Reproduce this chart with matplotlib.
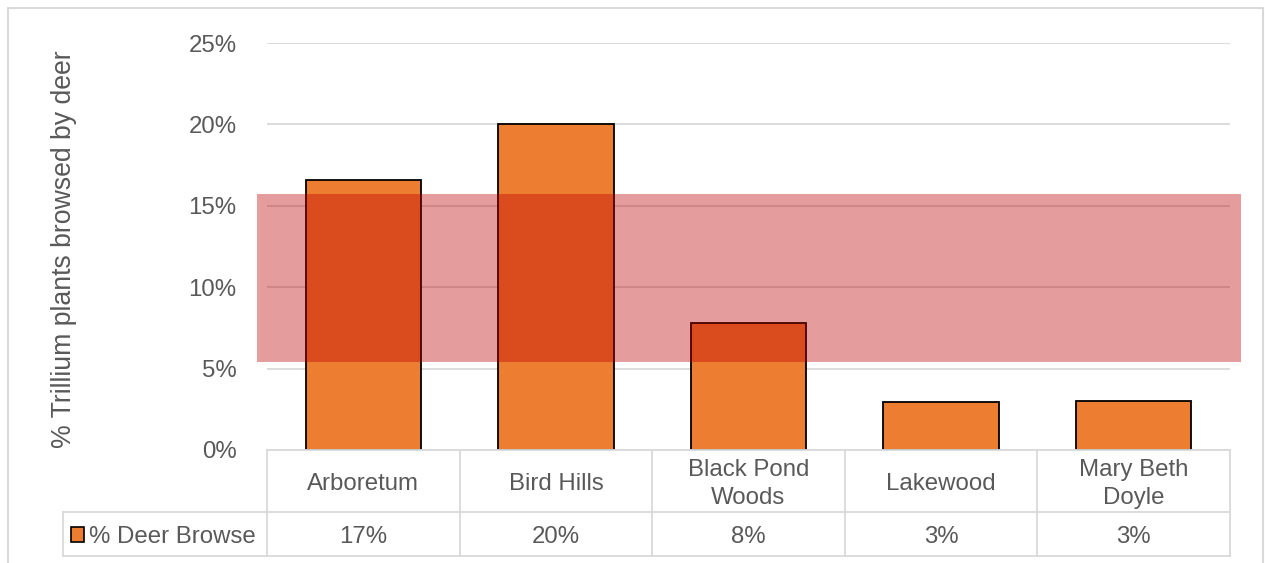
import matplotlib
matplotlib.use("Agg")
import matplotlib.pyplot as plt
from matplotlib.patches import Rectangle
from matplotlib.lines import Line2D

categories = ["Arboretum", "Bird Hills", "Black Pond\nWoods", "Lakewood", "Mary Beth\nDoyle"]
browse = [16.6, 20.0, 7.8, 2.95, 3.0]
table_labels = ["17%", "20%", "8%", "3%", "3%"]
series_name = "% Deer Browse"
yticks = [0, 5, 10, 15, 20, 25]
ytick_labels = ["0%", "5%", "10%", "15%", "20%", "25%"]
band_low, band_high = 5.4, 15.7
ylabel = "% Trillium plants browsed by deer"

plt.rcParams['font.family'] = ['Liberation Sans', 'DejaVu Sans']
W, H = 1265, 563
fig = plt.figure(figsize=(W / 100, H / 100), dpi=100)

def fx(px):
    return px / W

def fy(py):
    return 1 - py / H

txt = "#595959"
grid = "#D9D9D9"
orange = "#ED7D31"
fs = 17.3

# outer frame
fig.add_artist(Rectangle((fx(8), fy(570)), fx(1263) - fx(8), fy(8) - fy(570),
                         transform=fig.transFigure, fill=False, edgecolor=grid, lw=1.5))

ax = fig.add_axes([fx(267), fy(450), fx(1230) - fx(267), fy(43) - fy(450)])
n = len(categories)
x = list(range(n))
ax.bar(x, browse, width=0.6, color=orange, edgecolor="black", lw=1.3, zorder=2)
ax.set_xlim(-0.5, n - 0.5)
ax.set_ylim(0, 25)
ax.set_yticks(yticks)
ax.set_yticklabels(ytick_labels, fontsize=fs, color=txt)
for lab in ax.get_yticklabels():
    lab.set_y(lab.get_position()[1])
ax.set_xticks([])
ax.tick_params(axis='y', length=0, pad=22)
for s in ax.spines.values():
    s.set_visible(False)
ax.yaxis.grid(True, color=grid, lw=1.3, zorder=0)
ax.set_axisbelow(True)

# red band
upp = 1 / 192.6
ax.add_patch(Rectangle((-0.5 - 10 * upp, band_low), n + 21 * upp, band_high - band_low,
                       facecolor=(188 / 255, 0, 0, 0.39), edgecolor="none",
                       clip_on=False, zorder=3))

fig.text(fx(64), fy(249), ylabel, rotation=90, ha="center", va="center",
         fontsize=19.2, color=txt)

# data table
lw = 1.3
def hline(x0, x1, y):
    fig.add_artist(Line2D([fx(x0), fx(x1)], [fy(y), fy(y)], color=grid, lw=lw,
                          transform=fig.transFigure))

def vline(xp, y0, y1):
    fig.add_artist(Line2D([fx(xp), fx(xp)], [fy(y0), fy(y1)], color=grid, lw=lw,
                          transform=fig.transFigure))

hline(267, 1230, 450)
hline(63, 1230, 512)
hline(63, 1230, 556)
vline(63, 512, 556)
cw = (1230 - 267) / n
for i in range(n + 1):
    vline(267 + i * cw, 450, 556)

for i, (c, v) in enumerate(zip(categories, table_labels)):
    cx = 267 + (i + 0.5) * cw
    fig.text(fx(cx), fy(484), c, ha="center", va="center", fontsize=fs, color=txt,
             linespacing=1.3)
    fig.text(fx(cx), fy(537), v, ha="center", va="center", fontsize=fs, color=txt)

fig.add_artist(Rectangle((fx(71), fy(542)), fx(84) - fx(71), fy(527) - fy(542),
                         transform=fig.transFigure, facecolor=orange, edgecolor="black", lw=1.2))
fig.text(fx(89), fy(537), series_name, ha="left", va="center", fontsize=fs, color=txt)

fig.savefig("out.png", dpi=100)
